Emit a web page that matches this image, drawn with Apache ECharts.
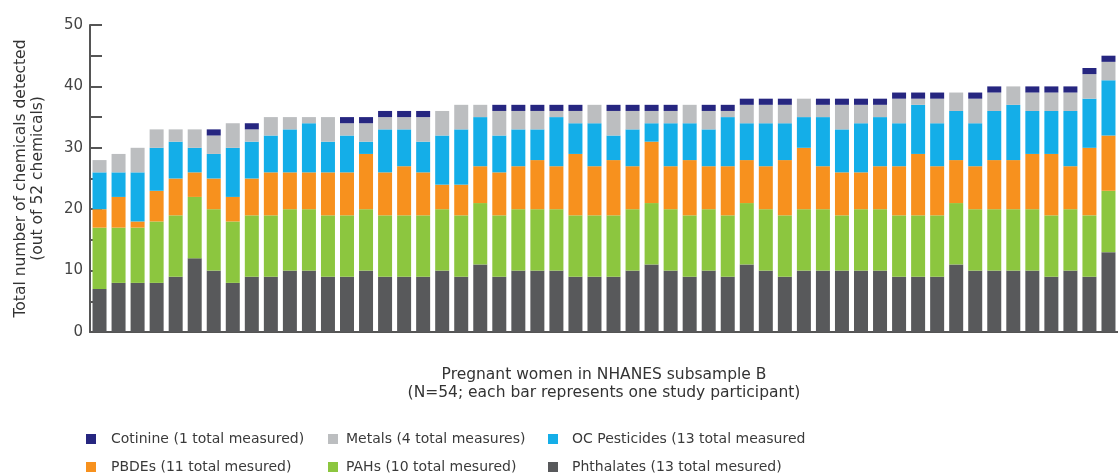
<!DOCTYPE html>
<html>
<head>
<meta charset="utf-8">
<title>Chemicals detected</title>
<script src="https://cdn.jsdelivr.net/npm/echarts@6/dist/echarts.min.js"></script>
<style>
  html, body { margin: 0; padding: 0; background: #fff; }
  #chart { width: 1118px; height: 475px; }
</style>
</head>
<body>
<div id="chart"></div>
<script>
// participants (one bar each)
const PARTICIPANTS = [1, 2, 3, 4, 5, 6, 7, 8, 9, 10, 11, 12, 13, 14, 15, 16, 17, 18,
  19, 20, 21, 22, 23, 24, 25, 26, 27, 28, 29, 30, 31, 32, 33, 34, 35, 36,
  37, 38, 39, 40, 41, 42, 43, 44, 45, 46, 47, 48, 49, 50, 51, 52, 53, 54];

// counts per chemical group, bottom of the stack first
const PHTHALATES = [7, 8, 8, 8, 9, 12, 10, 8, 9, 9, 10, 10, 9, 9, 10, 9, 9, 9,
  10, 9, 11, 9, 10, 10, 10, 9, 9, 9, 10, 11, 10, 9, 10, 9, 11, 10,
  9, 10, 10, 10, 10, 10, 9, 9, 9, 11, 10, 10, 10, 10, 9, 10, 9, 13];
const PAHS = [10, 9, 9, 10, 10, 10, 10, 10, 10, 10, 10, 10, 10, 10, 10, 10, 10, 10,
  10, 10, 10, 10, 10, 10, 10, 10, 10, 10, 10, 10, 10, 10, 10, 10, 10, 10,
  10, 10, 10, 9, 10, 10, 10, 10, 10, 10, 10, 10, 10, 10, 10, 10, 10, 10];
const PBDES = [3, 5, 1, 5, 6, 4, 5, 4, 6, 7, 6, 6, 7, 7, 9, 7, 8, 7,
  4, 5, 6, 7, 7, 8, 7, 10, 8, 9, 7, 10, 7, 9, 7, 8, 7, 7,
  9, 10, 7, 7, 6, 7, 8, 10, 8, 7, 7, 8, 8, 9, 10, 7, 11, 9];
const OC_PESTICIDES = [6, 4, 8, 7, 6, 4, 4, 8, 6, 6, 7, 8, 5, 6, 2, 7, 6, 5,
  8, 9, 8, 6, 6, 5, 8, 5, 7, 4, 6, 3, 7, 6, 6, 8, 6, 7,
  6, 5, 8, 7, 8, 8, 7, 8, 7, 8, 7, 8, 9, 7, 7, 9, 8, 9];
const METALS = [2, 3, 4, 3, 2, 3, 3, 4, 2, 3, 2, 1, 4, 2, 3, 2, 2, 4,
  4, 4, 2, 4, 3, 3, 1, 2, 3, 4, 3, 2, 2, 3, 3, 1, 3, 3,
  3, 3, 2, 4, 3, 2, 4, 1, 4, 3, 4, 3, 3, 3, 3, 3, 4, 3];
const COTININE = [0, 0, 0, 0, 0, 0, 1, 0, 1, 0, 0, 0, 0, 1, 1, 1, 1, 1,
  0, 0, 0, 1, 1, 1, 1, 1, 0, 1, 1, 1, 1, 0, 1, 1, 1, 1,
  1, 0, 1, 1, 1, 1, 1, 1, 1, 0, 1, 1, 0, 1, 1, 1, 1, 1];

const Y_TICKS = [0, 10, 20, 30, 40, 50];

const FONT = "'DejaVu Sans', 'Open Sans', sans-serif";

// legend layout: [name, colour, left, top, text offset]
const LEGEND = [
  ['Cotinine (1 total measured)', '#262680', 86, 431, 10],
  ['Metals (4 total measures)', '#bcbec0', 328, 431, 3],
  ['OC Pesticides (13 total measured', '#14aee8', 548, 431, 9],
  ['PBDEs (11 total mesured)', '#f7911e', 86, 459, 10],
  ['PAHs (10 total mesured)', '#8cc63f', 328, 459, 3],
  ['Phthalates (13 total mesured)', '#58595b', 548, 459, 9]
];

const chart = echarts.init(document.getElementById('chart'));

function bar(name, data, color) {
  return {
    name: name,
    type: 'bar',
    stack: 'total',
    data: data,
    barWidth: 14,
    itemStyle: { color: color },
    emphasis: { disabled: true }
  };
}

let option = {
  animation: false,
  grid: { left: 90, right: 0, top: 25, bottom: 143 },
  legend: LEGEND.map(function (l) {
    return {
      data: [l[0]],
      left: l[2],
      top: l[3],
      padding: 0,
      icon: 'rect',
      itemWidth: 10,
      itemHeight: 10,
      textStyle: {
        fontFamily: FONT, fontSize: 14, color: '#3a3a3a',
        lineHeight: 16, padding: [0, 0, 0, l[4]]
      }
    };
  }),
  xAxis: {
    type: 'category',
    data: PARTICIPANTS,
    name: 'Pregnant women in NHANES subsample B\n(N=54; each bar represents one study participant)',
    nameLocation: 'middle',
    nameGap: 34,
    nameTextStyle: { fontFamily: FONT, fontSize: 15.5, color: '#333', lineHeight: 18 },
    axisLine: { lineStyle: { color: '#555', width: 2 } },
    axisTick: { inside: true, length: 10, interval: 0, lineStyle: { color: '#999' } },
    axisLabel: { show: false }
  },
  yAxis: {
    type: 'value',
    min: 0,
    max: 50,
    interval: 5,
    name: 'Total number of chemicals detected\n(out of 52 chemicals)',
    nameLocation: 'middle',
    nameGap: 44,
    nameTextStyle: { fontFamily: FONT, fontSize: 15.5, color: '#333', lineHeight: 17 },
    axisLine: { show: true, lineStyle: { color: '#555', width: 2 } },
    axisTick: { show: true, inside: true, length: 12, lineStyle: { color: '#555', width: 2 } },
    axisLabel: {
      fontFamily: FONT,
      fontSize: 15,
      color: '#444',
      margin: 7,
      formatter: function (v) { return Y_TICKS.indexOf(v) >= 0 ? String(v) : ''; }
    },
    splitLine: { show: false }
  },
  series: [
    bar('Phthalates (13 total mesured)', PHTHALATES, '#58595b'),
    bar('PAHs (10 total mesured)', PAHS, '#8cc63f'),
    bar('PBDEs (11 total mesured)', PBDES, '#f7911e'),
    bar('OC Pesticides (13 total measured', OC_PESTICIDES, '#14aee8'),
    bar('Metals (4 total measures)', METALS, '#bcbec0'),
    bar('Cotinine (1 total measured)', COTININE, '#262680')
  ]
};

chart.setOption(option);
</script>
</body>
</html>
